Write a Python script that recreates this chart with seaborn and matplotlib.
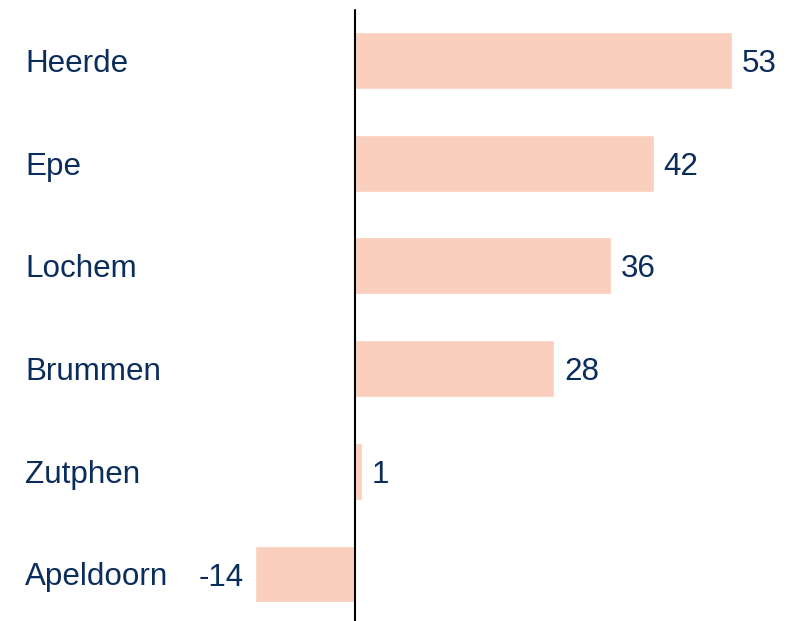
import pandas as pd
import matplotlib
matplotlib.use("Agg")
import matplotlib.pyplot as plt
import seaborn as sns

# Data
gemeenten = ["Heerde", "Epe", "Lochem", "Brummen", "Zutphen", "Apeldoorn"]
waarden = [53, 42, 36, 28, 1, -14]

if __name__ == "__main__":
    df = pd.DataFrame({"gemeente": gemeenten, "waarde": waarden})

    sns.set_style("white")
    plt.rcParams["font.family"] = ["Liberation Sans", "DejaVu Sans"]
    text_color = "#0b2d5b"
    bar_color = "#facfbd"

    fig = plt.figure(figsize=(7.91, 6.21), dpi=100)
    ax = fig.add_axes([0, 0, 1, 1])

    sns.barplot(data=df, x="waarde", y="gemeente", orient="h", color=bar_color,
                saturation=1, width=0.555, ax=ax)

    # scale: zero at 355 px, ~7.11 px per unit
    px_per_unit = 7.11
    ax.set_xlim(-355 / px_per_unit, (791 - 355) / px_per_unit)
    ax.set_ylim(5 + (621 - 574) / 102.7, -60.5 / 102.7)

    ax.axvline(0, ymin=0, ymax=(621 - 10) / 621, color="black", lw=1.5)

    # baseline a bit below the bar centre so the caps sit centred
    dy = 11.5 / 102.7
    for i, (name, v) in enumerate(zip(gemeenten, waarden)):
        ax.text(25 / 791, i + dy, name, transform=ax.get_yaxis_transform(),
                ha="left", va="baseline", fontsize=22.6, color=text_color)
        if v >= 0:
            ax.text(v + 10 / px_per_unit, i + dy, str(v), ha="left", va="baseline",
                    fontsize=22.6, color=text_color)
        else:
            ax.text(v - 12 / px_per_unit, i + dy, str(v), ha="right", va="baseline",
                    fontsize=22.6, color=text_color)

    ax.set_xlabel("")
    ax.set_ylabel("")
    ax.set_xticks([])
    ax.set_yticks([])
    sns.despine(ax=ax, left=True, bottom=True)

    fig.savefig("out.png", dpi=100)
